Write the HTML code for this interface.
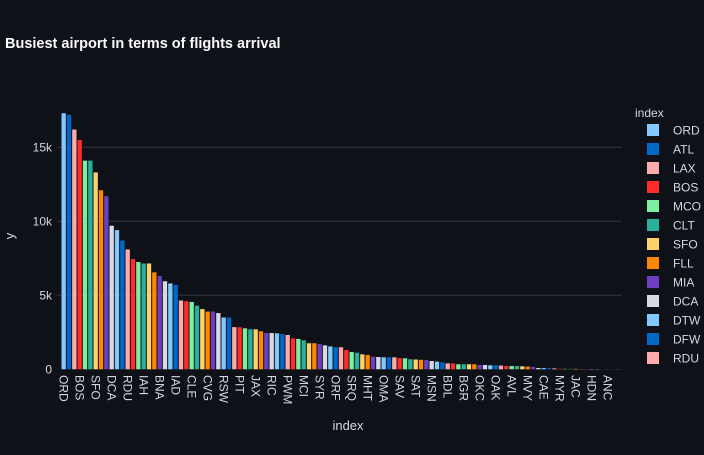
<!DOCTYPE html>
<html><head><meta charset="utf-8"><style>
body{margin:0;background:#0e1117;width:704px;height:450px;overflow:hidden;font-family:"Liberation Sans",sans-serif}
text{font-family:"Liberation Sans",sans-serif}
</style></head><body>
<svg id="chart" width="704" height="450" xmlns="http://www.w3.org/2000/svg">
<rect width="704" height="450" fill="#0e1117"/>
<text x="5" y="48" fill="#fafafa" font-size="14.5" font-weight="bold">Busiest airport in terms of flights arrival</text>
<g id="grid"></g><g id="bars"></g><g id="xticks"></g><g id="yticks"></g>
<text transform="translate(14,236) rotate(-90)" fill="#d5d7dc" font-size="13" text-anchor="middle">y</text>
<text x="348" y="430" fill="#d5d7dc" font-size="13" text-anchor="middle">index</text>
<g id="legend">
<text x="635" y="117" fill="#d5d7dc" font-size="12">index</text>
</g>
</svg>
<script>
const categories=["ORD","ATL","LAX","BOS","MCO","CLT","SFO","FLL","MIA","DCA","DTW","DFW","RDU","LGA","JFK","IAH","EWR","DEN","BNA","PHL","MSP","IAD","TPA","BWI","CLE","PBI","STL","CVG","MDW","CMH","RSW","IND","MCW","PIT","MKE","BUF","JAX","LAS","SDF","RIC","HOU","MSY","PWM","BTV","ALB","MCI","GSO","PVD","SYR","CHS","ROC","ORF","SAN","DAY","SRQ","PHX","GRR","MHT","SEA","DSM","OMA","CAK","SLC","SAV","MEM","PNS","SAT","AUS","TYS","MSN","CHA","GSP","BDL","ECP","LEX","BGR","SFB","ILM","OKC","TUL","XNA","OAK","ACK","MYR2","AVL","PIE","BHM","MVY","HPN","ISP","CAE","ORH","ITH","MYR","EYW","ELM","JAC","EGE","BZN","HDN","SJU","PSP","ANC","STT","ACY"];
const values=[17.3,17.2,16.2,15.5,14.1,14.1,13.3,12.1,11.7,9.7,9.4,8.7,8.1,7.45,7.25,7.15,7.15,6.55,6.3,5.95,5.8,5.7,4.65,4.6,4.55,4.3,4.07,3.9,3.9,3.8,3.5,3.5,2.85,2.84,2.77,2.7,2.7,2.57,2.45,2.45,2.43,2.38,2.32,2.09,2.05,1.96,1.76,1.76,1.71,1.62,1.55,1.49,1.49,1.3,1.17,1.12,1.01,0.97,0.85,0.83,0.81,0.81,0.81,0.76,0.74,0.68,0.66,0.64,0.62,0.56,0.52,0.47,0.4,0.4,0.34,0.34,0.34,0.34,0.29,0.29,0.27,0.27,0.25,0.22,0.22,0.22,0.2,0.18,0.16,0.09,0.08,0.08,0.06,0.04,0.03,0.03,0.03,0.02,0.02,0.02,0.02,0.01,0.01,0.01,0.01];
const yTicks=[0,5,10,15];
const yTickLabels=["0","5k","10k","15k"];
const colors=["#83c9ff","#0068c9","#ffabab","#ff2b2b","#7defa1","#29b09d","#ffd16a","#ff8700","#6d3fc0","#d5dae5"];
const legendCount=13;
const NS="http://www.w3.org/2000/svg";
const X0=61,X1=621,Y0=369.3,PXK=14.8;
const step=(X1-X0)/categories.length;
function xScale(i){return X0+i*step;}
function yScale(v){return Y0-v*PXK;}
function mk(tag,attrs,parent){const e=document.createElementNS(NS,tag);for(const k in attrs)e.setAttribute(k,attrs[k]);parent.appendChild(e);return e;}
const grid=document.getElementById('grid'),bars=document.getElementById('bars'),xt=document.getElementById('xticks'),yt=document.getElementById('yticks'),lg=document.getElementById('legend');
yTicks.forEach((t,i)=>{
  if(t>0){const l=mk('line',{x1:X0-4,x2:X1+1,y1:yScale(t),y2:yScale(t),stroke:'#31333f','stroke-width':1},grid);
  
  }
  const tx=mk('text',{x:52,y:yScale(t)+4,fill:'#d5d7dc','font-size':12,'text-anchor':'end'},yt);
  tx.textContent=yTickLabels[i];
  
  
});
categories.forEach((c,i)=>{
  const r=mk('rect',{x:xScale(i)+0.5,y:yScale(values[i]),width:step-1,height:values[i]*PXK,fill:colors[i%10]},bars);
  
  
  if(i%3===0&&i<=102){
    const cx=xScale(i)+step/2;
    const t=mk('text',{transform:'translate('+(cx-4)+',375) rotate(90)',fill:'#d5d7dc','font-size':12},xt);
    t.textContent=c;
    
    
  }
});
for(let i=0;i<legendCount;i++){
  const y=130+i*19;
  const g=mk('g',{},lg);
  
  
  mk('rect',{x:647,y:y-6,width:12,height:12,fill:colors[i%10]},g);
  const t=mk('text',{x:673,y:y+4.5,fill:'#d5d7dc','font-size':12},g);
  t.textContent=categories[i];
}
</script>
</body></html>
